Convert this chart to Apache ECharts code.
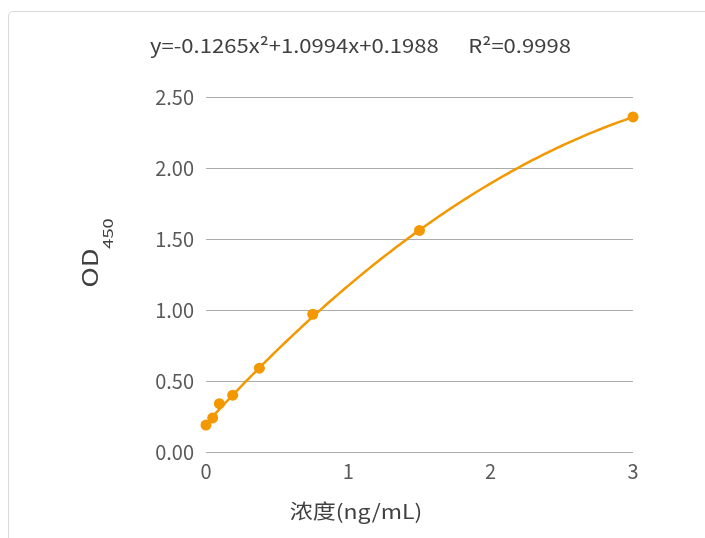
<!DOCTYPE html>
<html>
<head>
<meta charset="utf-8">
<script src="https://cdn.jsdelivr.net/npm/echarts@6/dist/echarts.min.js"></script>
<style>
  html, body { margin: 0; padding: 0; background: #fff; }
  #frame { position: absolute; left: 8px; top: 11px; width: 720px; height: 560px;
           border: 1px solid #d9d9d9; border-radius: 5px; box-sizing: border-box; }
  #chart { position: absolute; left: 0; top: 0; width: 705px; height: 538px; }
</style>
</head>
<body>
<div id="frame"></div>
<div id="chart"></div>
<script>
// Standard concentrations (ng/mL) and measured OD450
const concentrations = [0, 0.047, 0.094, 0.1875, 0.375, 0.75, 1.5, 3];
const odValues = [0.19, 0.24, 0.34, 0.40, 0.59, 0.97, 1.56, 2.36];
// Quadratic trendline coefficients: y = a*x^2 + b*x + c
const fitCoefficients = [-0.1265, 1.0994, 0.1988];
const rSquared = '0.9998';
const yTickLabels = ['0.00', '0.50', '1.00', '1.50', '2.00', '2.50'];
const xAxisTitle = '浓度(ng/mL)';

const ORANGE = '#F39800';
const FONT = '"Noto Sans CJK SC", "Noto Sans", sans-serif';
const TEXT_DARK = '#404040';
const TEXT_MID = '#595959';

// Sample the quadratic fit across the concentration range
const [a, b, c] = fitCoefficients;
const trend = [];
for (let i = 0; i <= 150; i++) {
  const x = 3 * i / 150;
  trend.push([x, a * x * x + b * x + c]);
}
const equation = 'y=' + a + 'x\u00B2+' + b + 'x+' + c + '      R\u00B2=' + rSquared;

const chart = echarts.init(document.getElementById('chart'), null, { renderer: 'canvas' });
chart.setOption({
  animation: false,
  backgroundColor: 'transparent',
  grid: { left: 206, right: 72, top: 97, bottom: 86 },
  xAxis: {
    type: 'value', min: 0, max: 3, interval: 1,
    axisLine: { show: false }, axisTick: { show: false },
    splitLine: { show: false },
    axisLabel: { fontFamily: FONT, fontSize: 20, color: TEXT_MID, margin: 9 }
  },
  yAxis: {
    type: 'value', min: 0, max: 2.5, interval: 0.5,
    axisLine: { show: false }, axisTick: { show: false },
    splitLine: { lineStyle: { color: '#ababab', width: 1 } },
    axisLabel: {
      fontFamily: FONT, fontSize: 20, color: TEXT_MID, margin: 12,
      formatter: (v) => yTickLabels[Math.round(v / 0.5)]
    }
  },
  graphic: [
    {
      // trendline equation
      type: 'text', x: 150, y: 46, scaleX: 1.16,
      style: { text: equation, fontFamily: FONT, fontSize: 19, fill: TEXT_DARK,
               align: 'left', verticalAlign: 'middle' }
    },
    {
      // x-axis title
      type: 'text', x: 356, y: 511, scaleX: 1.15,
      style: { text: xAxisTitle, fontFamily: FONT, fontSize: 20, fill: TEXT_DARK,
               align: 'center', verticalAlign: 'middle' }
    },
    {
      // y-axis title "OD"
      type: 'text', x: 90, y: 268, rotation: Math.PI / 2, scaleX: 1.3,
      style: { text: 'OD', fontFamily: FONT, fontSize: 21, fill: TEXT_DARK,
               align: 'center', verticalAlign: 'middle' }
    },
    {
      // y-axis title subscript "450"
      type: 'text', x: 107.5, y: 233.5, rotation: Math.PI / 2, scaleX: 1.3,
      style: { text: '450', fontFamily: FONT, fontSize: 14, fill: TEXT_DARK,
               align: 'center', verticalAlign: 'middle' }
    }
  ],
  series: [{
    type: 'line', data: trend, showSymbol: false, smooth: false,
    lineStyle: { color: ORANGE, width: 2.5 }, z: 2
  }, {
    type: 'scatter', data: concentrations.map((x, i) => [x, odValues[i]]),
    symbolSize: 11, itemStyle: { color: ORANGE, opacity: 1 }, z: 3
  }]
});
</script>
</body>
</html>
